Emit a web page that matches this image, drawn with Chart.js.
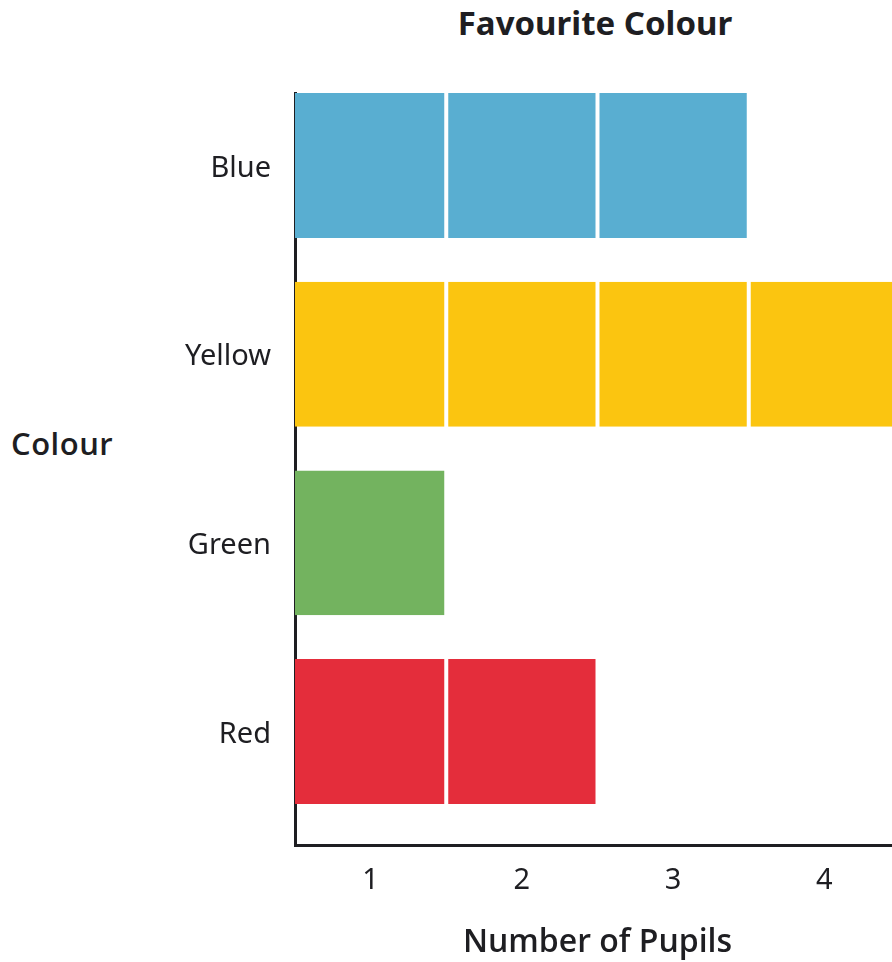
<!DOCTYPE html>
<html>
<head>
<meta charset="utf-8">
<script src="https://cdn.jsdelivr.net/npm/chart.js@4/dist/chart.umd.min.js"></script>
<style>
  html, body { margin: 0; padding: 0; background: #fff; overflow: hidden; }
  #wrap { position: relative; width: 892px; height: 962px; overflow: hidden; }
  canvas { position: absolute; left: 0; top: 0; }
  .lbl { position: absolute; font-family: "Noto Sans", Roboto, sans-serif; color: #1e1e22; white-space: nowrap; line-height: 1; }
  #titulo { font-size: 33px; font-weight: 700; left: 595px; top: 6px; transform: translateX(-50%); }
  #eixoY { font-family: "Open Sans", "Noto Sans", sans-serif; font-size: 31px; font-weight: 600; left: 11px; top: 428px; letter-spacing: 0.5px; }
</style>
</head>
<body>
<div id="wrap">
  <div class="lbl" id="titulo">Favourite Colour</div>
  <div class="lbl" id="eixoY">Colour</div>
  <canvas id="grafico" width="900" height="962"></canvas>
</div>
<script>
/* ================= DADOS ================= */
const cores = ["Blue", "Yellow", "Green", "Red"];
const alunos = [3, 4, 1, 2];
const corBarras = ["#59aed1", "#fbc510", "#73b35f", "#e42d3b"];
const ticksX = [1, 2, 3, 4];

/* ================= BLOCOS ================= */
// um dataset por bloco (1 aluno = 1 bloco)
const blocos = ticksX.map(k => ({
  label: "Bloco " + k,
  data: cores
    .map((c, i) => ({ y: i, x: [k - 0.5, k + 0.5] }))
    .filter(p => alunos[p.y] >= k),
  backgroundColor: ctx => corBarras[ctx.raw ? ctx.raw.y : 0],
  borderColor: "#ffffff",
  borderWidth: { left: k > 1 ? 2 : 0, right: 2, top: 0, bottom: 0 },
  borderSkipped: false,
  categoryPercentage: 1,
  barPercentage: 0.768,
  grouped: false
}));

Chart.defaults.devicePixelRatio = 1;
Chart.defaults.font.family = "'Noto Sans', Roboto, sans-serif";
Chart.defaults.color = "#1e1e22";

new Chart(document.getElementById("grafico"), {
  type: "bar",
  data: { datasets: blocos },
  options: {
    indexAxis: "y",
    responsive: false,
    animation: false,
    layout: { padding: { top: 93, right: 0, left: 0, bottom: 0 } },
    plugins: { legend: { display: false }, tooltip: { enabled: false }, title: { display: false } },
    scales: {
      x: {
        type: "linear",
        min: 0.5,
        max: 4.5,
        offset: false,
        grid: { display: false, drawTicks: false },
        border: { color: "#1e1e22", width: 3 },
        afterBuildTicks: s => { s.ticks = ticksX.map(v => ({ value: v })); },
        ticks: { font: { size: 29, weight: 400 }, padding: 18, color: "#1e1e22" },
        title: {
          display: true,
          text: "Number of Pupils",
          font: { family: "'Open Sans', 'Noto Sans', sans-serif", size: 32, weight: 600 },
          padding: { top: 20, bottom: 0 },
          color: "#1e1e22"
        },
        afterFit: s => { s.height = 117; }
      },
      y: {
        type: "linear",
        reverse: true,
        offset: false,
        min: -0.384,
        max: 3.601,
        grid: { display: false, drawTicks: false, offset: false },
        border: { color: "#1e1e22", width: 3 },
        afterBuildTicks: s => { s.ticks = cores.map((c, i) => ({ value: i })); },
        ticks: { font: { size: 29, weight: 400 }, padding: 24, labelOffset: 3, color: "#1e1e22", callback: v => cores[v] },
        afterFit: s => { s.width = 295; }
      }
    }
  }
});
</script>
</body>
</html>
